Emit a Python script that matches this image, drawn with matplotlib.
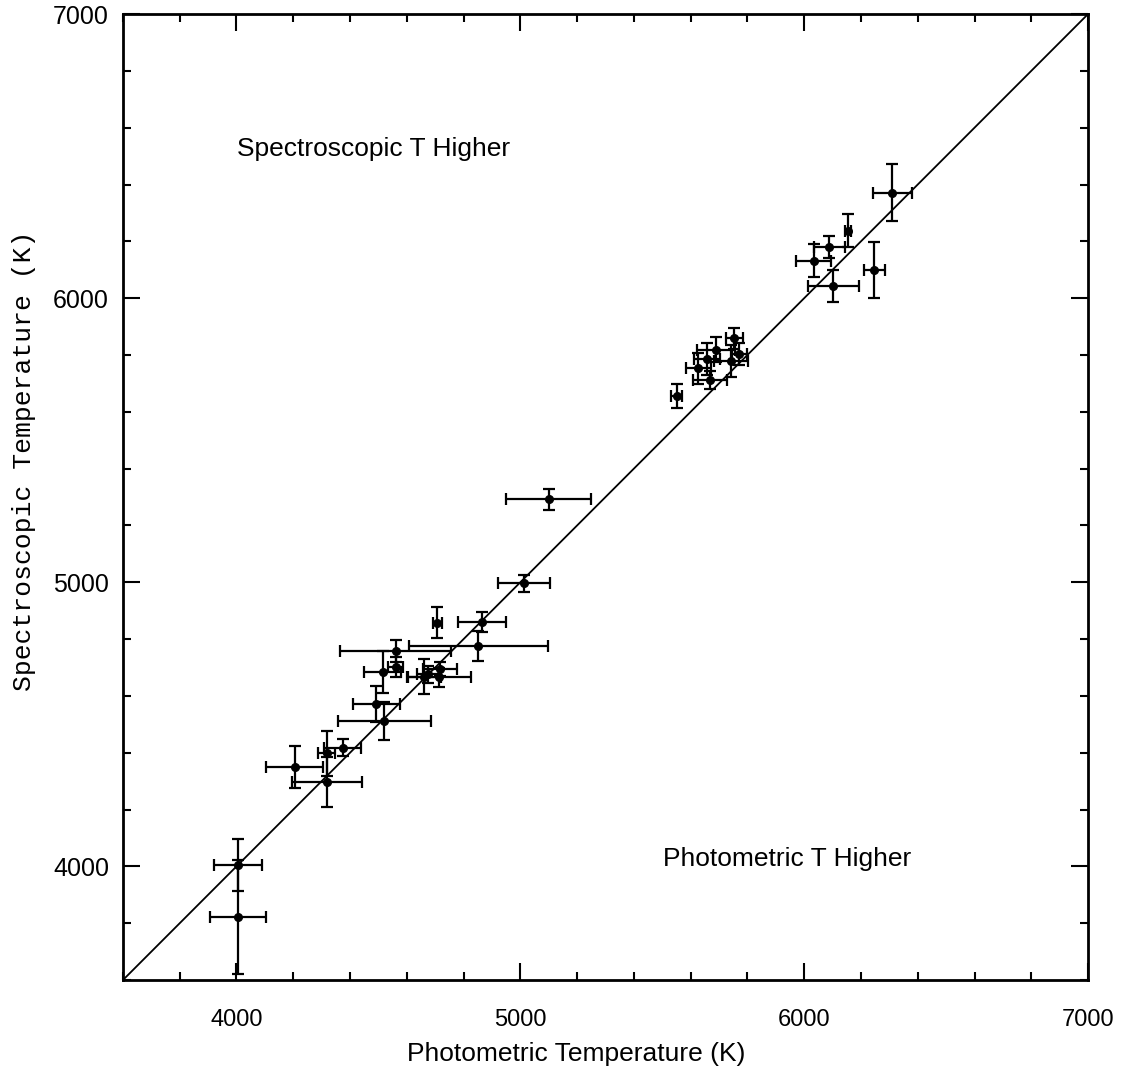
import matplotlib.pyplot as plt
from matplotlib.ticker import MultipleLocator

# photometric vs spectroscopic effective temperatures (K)
phot_t = [4005, 4005, 4205, 4320, 4318, 4375, 4492, 4521, 4515, 4561, 4561, 4661,
          4676, 4717, 4715, 4708, 4852, 4864, 5013, 5100, 5551, 5627, 5657, 5669,
          5689, 5741, 5753, 5772, 6033, 6088, 6103, 6155, 6247, 6310]
phot_err = [85, 100, 100, 123, 30, 65, 83, 163, 65, 195, 26, 59,
            40, 59, 110, 16, 245, 85, 90, 150, 19, 43, 45, 60,
            68, 60, 30, 26, 63, 54, 91, 10, 38, 69]
spec_t = [4005, 3821, 4350, 4296, 4398, 4417, 4572, 4512, 4685, 4759, 4703, 4668,
          4677, 4696, 4665, 4858, 4776, 4861, 4997, 5292, 5656, 5753, 5786, 5712,
          5819, 5779, 5858, 5804, 6132, 6181, 6043, 6238, 6099, 6371]
spec_err = [90, 200, 75, 88, 80, 30, 63, 68, 73, 38, 35, 62,
            30, 25, 32, 55, 53, 35, 30, 37, 42, 55, 55, 31,
            44, 56, 36, 39, 59, 39, 55, 59, 100, 100]

t_min, t_max = 3600, 7000

plt.rcParams['font.family'] = ['Liberation Sans', 'DejaVu Sans']

fig = plt.figure(figsize=(11.26, 10.72), dpi=100)
ax = fig.add_axes([0.1092, 0.0858, 0.8571, 0.9011])

ax.plot([t_min, t_max], [t_min, t_max], color='black', lw=1.3)
ax.errorbar(phot_t, spec_t, xerr=phot_err, yerr=spec_err, fmt='o', color='black',
            ms=5.5, elinewidth=1.6, capsize=4, capthick=1.6)

ax.set_xlim(t_min, t_max)
ax.set_ylim(t_min, t_max)

ax.xaxis.set_major_locator(MultipleLocator(1000))
ax.yaxis.set_major_locator(MultipleLocator(1000))
ax.xaxis.set_minor_locator(MultipleLocator(200))
ax.yaxis.set_minor_locator(MultipleLocator(200))
ax.tick_params(which='both', direction='in', top=True, right=True, width=1.5)
ax.tick_params(which='major', length=12)
ax.tick_params(which='minor', length=6)
ax.tick_params(axis='x', labelsize=17, pad=21)
ax.tick_params(axis='y', labelsize=18, pad=10)
for s in ax.spines.values():
    s.set_linewidth(2)

ax.set_xlabel('Photometric Temperature (K)', fontsize=19)
ax.xaxis.set_label_coords(0.470, -0.064)
ax.set_ylabel('Spectroscopic Temperature (K)', fontsize=19,
              family=['Liberation Mono', 'DejaVu Sans'])
ax.yaxis.set_label_coords(-0.090, 0.538)

ax.text(4002, 6525, 'Spectroscopic T Higher', fontsize=19, va='center')
ax.text(5503, 4025, 'Photometric T Higher', fontsize=19, va='center')

plt.savefig('out.png')
